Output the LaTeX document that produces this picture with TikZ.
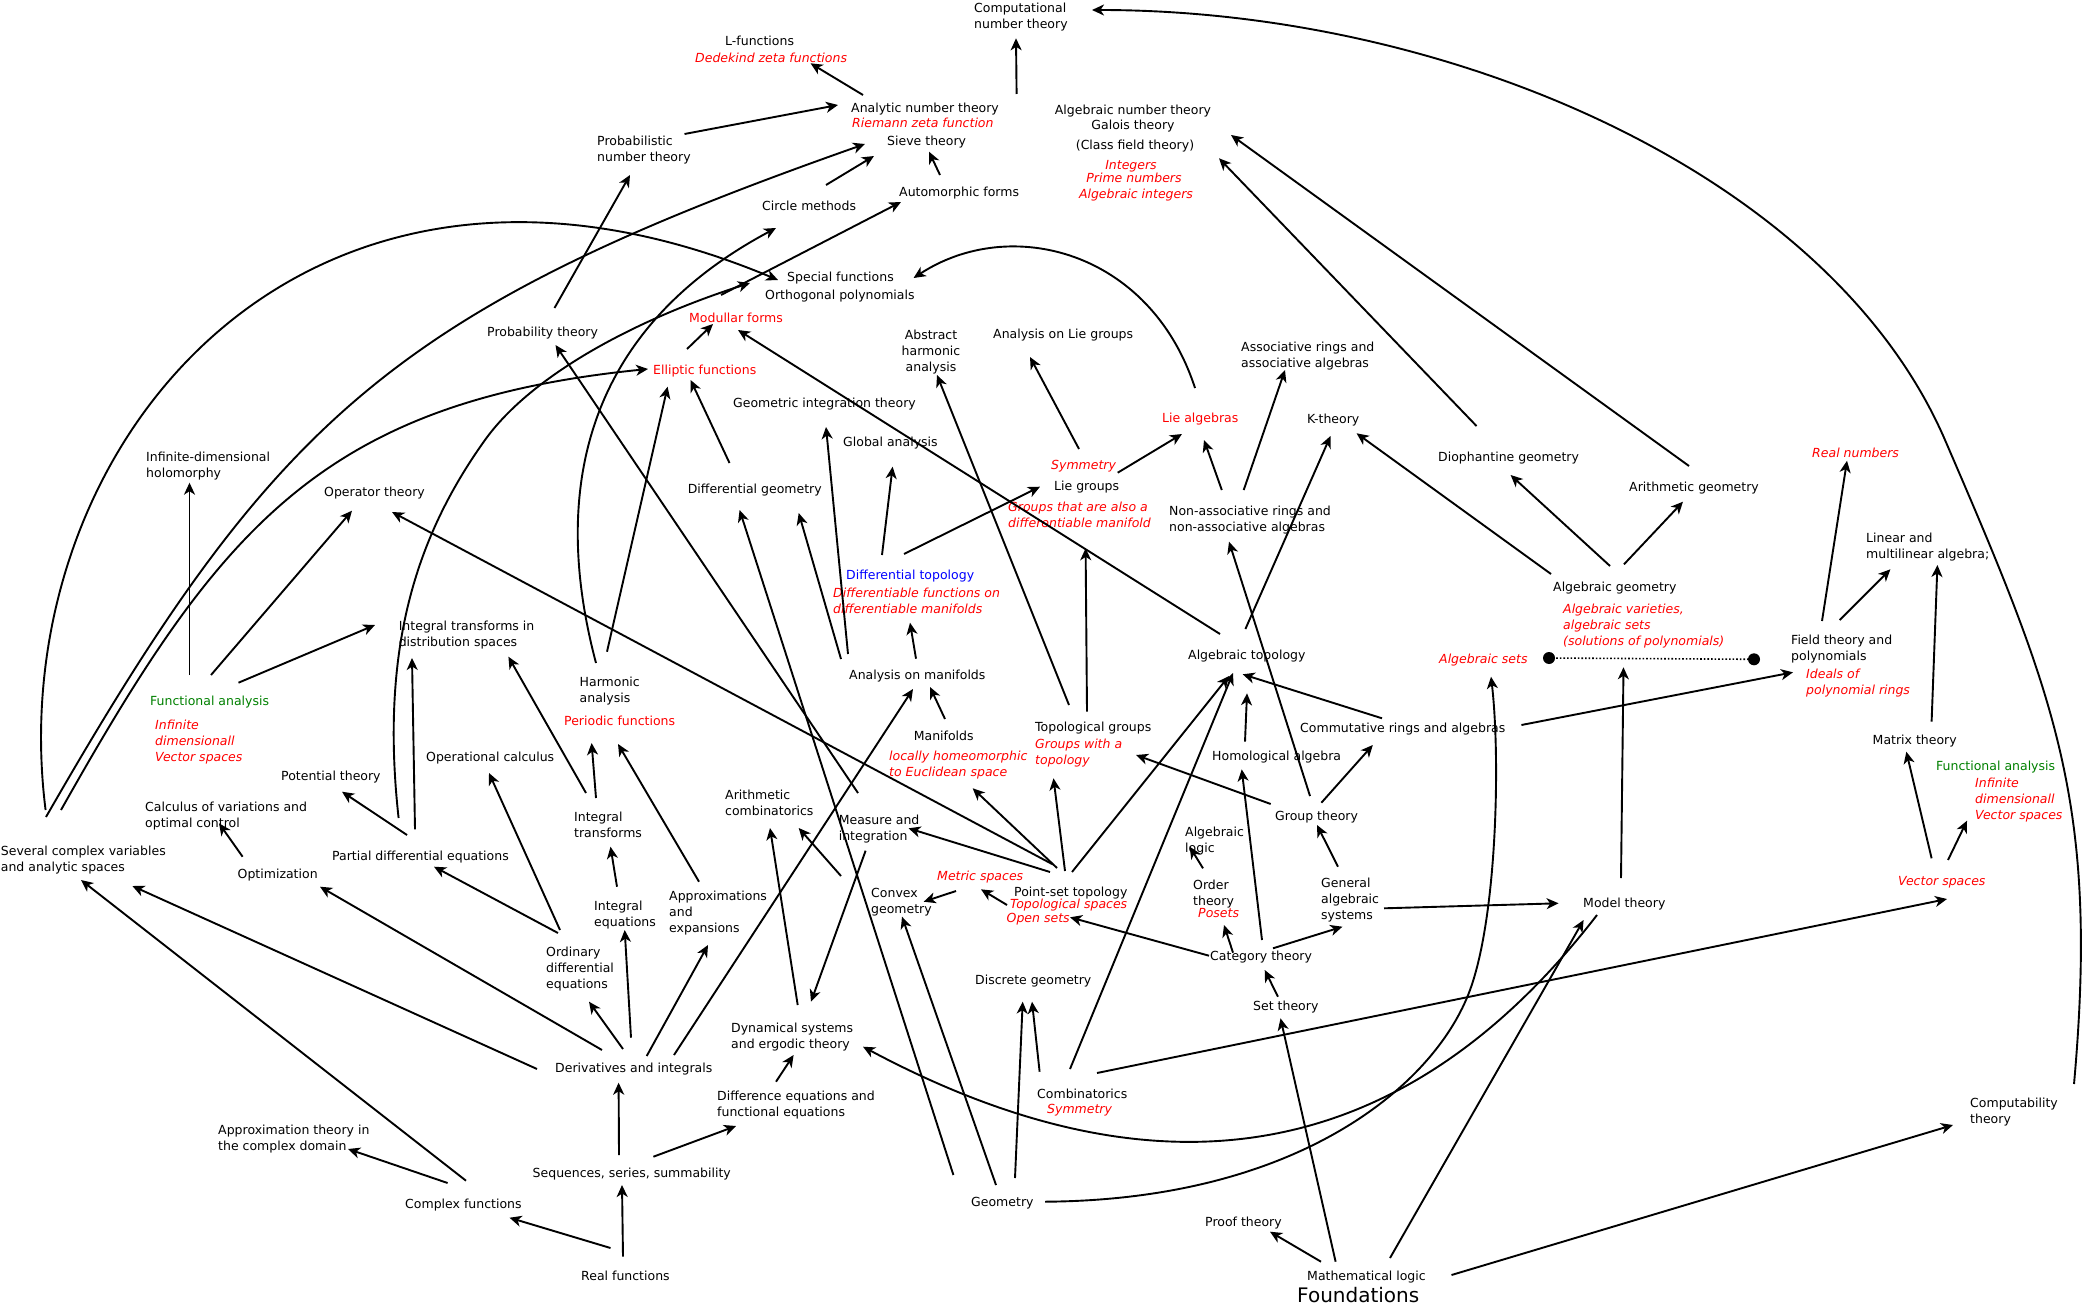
\documentclass[tikz,border=0pt]{standalone}
\usepackage{fontspec}
\setmainfont{DejaVu Sans}
\usetikzlibrary{arrows.meta}
\definecolor{tred}{RGB}{255,0,0}
\definecolor{tgreen}{RGB}{0,128,0}
\definecolor{tblue}{RGB}{0,0,255}
\newcommand\vl[1]{\vtop{\baselineskip=16pt\lineskiplimit=-20pt\halign{##\hfil\cr#1\cr}}}
\newcommand\vc[1]{\vtop{\baselineskip=16pt\lineskiplimit=-20pt\halign{\hfil##\hfil\cr#1\cr}}}
\begin{document}
\begin{tikzpicture}[x=1pt,y=-1pt,
  lbl/.style={anchor=base west,inner sep=0pt,font=\fontsize{12.5}{16}\selectfont,text=black},
  rl/.style={lbl,text=tred,font=\fontsize{12.5}{16}\selectfont\itshape},
  ru/.style={lbl,text=tred},
  gl/.style={lbl,text=tgreen},
  bl/.style={lbl,text=tblue},
  arr/.style={-{Stealth[length=12pt,width=11pt,inset=3.5pt]},line width=1.9pt}]
\useasboundingbox (0,0) rectangle (2090,1308);
% ---------------- labels ----------------
\node[lbl] (comp) at (974,12.3) {\vl{Computational\cr number theory}};
\node[lbl] (lfun) at (725,45.7) {L-functions};
\node[rl] (dedekind) at (695,62.3) {Dedekind zeta functions};
\node[lbl] (ant) at (851,112.7) {Analytic number theory};
\node[rl] (riemann) at (852,127.7) {Riemann zeta function};
\node[lbl] (sieve) at (887,145.7) {Sieve theory};
\node[lbl] (probnt) at (597,145.7) {\vl{Probabilistic\cr number theory}};
\node[lbl] (circle) at (762,210.7) {Circle methods};
\node[lbl] (autom) at (899,196.7) {Automorphic forms};
\node[lbl] (special) at (787,281.7) {Special functions};
\node[lbl] (ortho) at (765,299.7) {Orthogonal polynomials};
\node[ru] (modular) at (689,322.3) {Modullar forms};
\node[ru] (elliptic) at (653,374.3) {Elliptic functions};
\node[lbl,anchor=base] (absharm) at (931,339.3) {\vc{Abstract\cr harmonic\cr analysis}};
\node[lbl] (anlie) at (993,338.3) {Analysis on Lie groups};
\node[lbl] (geoint) at (733,407.7) {Geometric integration theory};
\node[lbl] (prob) at (487,336.7) {Probability theory};
\node[lbl,anchor=base] (algnt) at (1133,114.7) {Algebraic number theory};
\node[lbl,anchor=base] (galois) at (1133,129.7) {Galois theory};
\node[lbl,anchor=base] (classfield) at (1135,149.7) {(Class field theory)};
\node[rl,anchor=base] (integers) at (1131,169.7) {Integers};
\node[rl,anchor=base] (primes) at (1134,182.7) {Prime numbers};
\node[rl,anchor=base] (algint) at (1136,198.7) {Algebraic integers};
\node[lbl] (assoc) at (1241,351.7) {\vl{Associative rings and\cr associative algebras}};
\node[ru] (liealg) at (1162,422.7) {Lie algebras};
\node[lbl] (ktheory) at (1307,423.7) {K-theory};
\node[lbl] (dioph) at (1438,461.7) {Diophantine geometry};
\node[rl] (symm) at (1051,469.7) {Symmetry};
\node[lbl] (liegroups) at (1054,490) {Lie groups};
\node[rl] (groupsdiff) at (1008,511.7) {\vl{Groups that are also a\cr differentiable manifold}};
\node[lbl] (nonassoc) at (1169,515.7) {\vl{Non-associative rings and\cr non-associative algebras}};
\node[lbl] (algtop) at (1188,659) {Algebraic topology};
\node[rl] (algsets) at (1439,663) {Algebraic sets};
\node[lbl] (alggeom) at (1553,591.7) {Algebraic geometry};
\node[rl] (algvar) at (1563,613.7) {\vl{Algebraic varieties,\cr algebraic sets\cr (solutions of polynomials)}};
\node[lbl] (topgroups) at (1035,731.7) {Topological groups};
\node[rl] (groupstop) at (1035,748.7) {\vl{Groups with a\cr topology}};
\node[lbl] (commrings) at (1300,732.7) {Commutative rings and algebras};
\node[lbl] (homalg) at (1212,760.7) {Homological algebra};
\node[lbl] (grouptheory) at (1275,820.7) {Group theory};
\node[lbl] (alglogic) at (1185,836.7) {\vl{Algebraic\cr logic}};
\node[lbl] (arithgeom) at (1629,491.7) {Arithmetic geometry};
\node[rl] (realnum) at (1812,457.7) {Real numbers};
\node[lbl] (linear) at (1866,542.7) {\vl{Linear and\cr multilinear algebra;}};
\node[lbl] (field) at (1791,644.7) {\vl{Field theory and\cr polynomials}};
\node[rl] (ideals) at (1806,678.7) {\vl{Ideals of\cr polynomial rings}};
\node[lbl] (matrix) at (1872.5,744.7) {Matrix theory};
\node[gl] (fatwo) at (1936,770.7) {Functional analysis};
\node[rl] (infdimtwo) at (1975,787.3) {\vl{Infinite\cr dimensionall\cr Vector spaces}};
\node[rl] (vecspaces) at (1898,885.7) {Vector spaces};
\node[lbl] (model) at (1583,907.7) {Model theory};
\node[lbl] (computab) at (1970,1107.7) {\vl{Computability\cr theory}};
\node[lbl] (pointset) at (1014,896.7) {Point-set topology};
\node[rl] (topspaces) at (1010,908.3) {Topological spaces};
\node[rl] (opensets) at (1006.5,922.3) {Open sets};
\node[lbl] (order) at (1193,889.3) {\vl{Order\cr theory}};
\node[rl] (posets) at (1198,917.3) {Posets};
\node[lbl] (genalg) at (1321,887.7) {\vl{General\cr algebraic\cr systems}};
\node[lbl] (category) at (1210,960.7) {Category theory};
\node[lbl] (settheory) at (1253,1010.7) {Set theory};
\node[lbl] (discrete) at (975,984.3) {Discrete geometry};
\node[lbl] (combin) at (1037,1098.3) {Combinatorics};
\node[rl] (symmtwo) at (1047,1113.3) {Symmetry};
\node[lbl] (proof) at (1205,1226.7) {Proof theory};
\node[lbl] (mathlogic) at (1307,1280.7) {Mathematical logic};
\node[lbl,font=\fontsize{20}{24}\selectfont] (found) at (1297,1302) {Foundations};
\node[rl] (metric) at (937,880.7) {Metric spaces};
\node[lbl] (convex) at (871,897.7) {\vl{Convex\cr geometry}};
\node[lbl] (inteq) at (594,910.7) {\vl{Integral\cr equations}};
\node[lbl] (approx) at (669,900.3) {\vl{Approximations\cr and\cr expansions}};
\node[lbl] (ode) at (546,956.7) {\vl{Ordinary\cr differential\cr equations}};
\node[lbl] (dynam) at (731,1032.7) {\vl{Dynamical systems\cr and ergodic theory}};
\node[lbl] (deriv) at (555,1072.7) {Derivatives and integrals};
\node[lbl] (diffeq) at (717,1100.7) {\vl{Difference equations and\cr functional equations}};
\node[lbl] (seq) at (532.5,1177.7) {Sequences, series, summability};
\node[lbl] (realfun) at (581,1280.7) {Real functions};
\node[lbl] (geometry) at (971,1206.7) {Geometry};
\node[lbl] (several) at (0.7,855.7) {\vl{Several complex variables\cr and analytic spaces}};
\node[lbl] (optim) at (237.5,878.7) {Optimization};
\node[lbl] (approxc) at (218,1134.3) {\vl{Approximation theory in\cr the complex domain}};
\node[lbl] (complexfun) at (405,1208.3) {Complex functions};
\node[lbl] (infholo) at (146,461.7) {\vl{Infinite-dimensional\cr holomorphy}};
\node[lbl] (operator) at (324,496.7) {Operator theory};
\node[lbl] (itdist) at (398.6,630.7) {\vl{Integral transforms in\cr distribution spaces}};
\node[gl] (fa) at (150,705.7) {Functional analysis};
\node[rl] (infdim) at (155,729.3) {\vl{Infinite\cr dimensionall\cr Vector spaces}};
\node[lbl] (potential) at (281,780.7) {Potential theory};
\node[lbl] (calcvar) at (145,811.7) {\vl{Calculus of variations and\cr optimal control}};
\node[lbl] (opcalc) at (426,761.7) {Operational calculus};
\node[lbl] (pde) at (332,860) {Partial differential equations};
\node[lbl] (global) at (843,446.7) {Global analysis};
\node[lbl] (diffgeom) at (687.6,493.7) {Differential geometry};
\node[bl] (difftop) at (846,579.7) {Differential topology};
\node[rl] (difffun) at (833,597.7) {\vl{Differentiable functions on\cr differentiable manifolds}};
\node[lbl] (harmonic) at (579.5,686.7) {\vl{Harmonic\cr analysis}};
\node[ru] (periodic) at (564,725.7) {Periodic functions};
\node[lbl] (anman) at (849,679.7) {Analysis on manifolds};
\node[lbl] (manifolds) at (913.6,740.7) {Manifolds};
\node[rl] (locally) at (889,760.7) {\vl{locally homeomorphic\cr to Euclidean space}};
\node[lbl] (inttrans) at (574,821.7) {\vl{Integral\cr transforms}};
\node[lbl] (arithcomb) at (725,799.7) {\vl{Arithmetic\cr combinatorics}};
\node[lbl] (measure) at (838.6,824.7) {\vl{Measure and\cr integration}};
% ---------------- straight arrows ----------------
\draw[arr] (863,95) -- (810.5,63.3);
\draw[arr] (1016.6,94) -- (1016,38.3);
\draw[arr] (684.5,134) -- (838,105);
\draw[arr] (826,185) -- (874,156);
\draw[arr] (940,175) -- (929,151.7);
\draw[arr] (554.5,308) -- (630,175);
\draw[arr] (721,295) -- (901,202);
\draw[arr] (687,349) -- (713,324);
\draw[arr] (1220,634) -- (738,330);
\draw[arr] (607,651.7) -- (667.6,386.7);
\draw[arr] (729.5,463) -- (690.6,380);
\draw[arr] (1069,705) -- (937,375);
\draw[arr] (1079,449) -- (1030,357);
\draw[arr] (848,654) -- (826,427);
\draw[arr] (882,555) -- (892.6,466.7);
\draw[arr] (904,554) -- (1040,486.7);
\draw[arr] (841,659) -- (798.7,513);
\draw[arr] (916,658.7) -- (910,622.7);
\draw[arr] (945,719) -- (930,687);
\draw[arr] (674,1055) -- (913,689);
\draw[arr] (953.4,1175) -- (739.6,510);
\draw[arr] (858,793) -- (555.5,345);
\draw[arr] (1052,864) -- (392,512);
\draw[arr] (189.5,675) -- (189.5,482.7);
\draw[arr] (211,675) -- (352,510.7);
\draw[arr] (238.5,682.7) -- (375,625);
\draw[arr] (407,835) -- (342,791.7);
\draw[arr] (415,829.3) -- (412,658);
\draw[arr] (242.6,856.7) -- (219,823.3);
\draw[arr] (586,793) -- (508.4,656.7);
\draw[arr] (560,930) -- (489,773);
\draw[arr] (558,933) -- (434,866.7);
\draw[arr] (596,798) -- (591.6,743);
\draw[arr] (699,881.7) -- (618,744);
\draw[arr] (617,886.7) -- (610.5,846.7);
\draw[arr] (623,1049) -- (589,1001.7);
\draw[arr] (631,1037.7) -- (624.7,930);
\draw[arr] (646.7,1056) -- (708,945);
\draw[arr] (602,1050) -- (320,886.7);
\draw[arr] (537,1069) -- (132.4,886);
\draw[arr] (466,1180.7) -- (81,880);
\draw[arr] (447.6,1183) -- (348,1149);
\draw[arr] (610.5,1248) -- (509.5,1217.7);
\draw[arr] (623,1256.7) -- (622,1185);
\draw[arr] (619,1155) -- (618.6,1082.7);
\draw[arr] (653.4,1156.7) -- (736,1126);
\draw[arr] (776,1081.7) -- (793.6,1055);
\draw[arr] (797.7,1005) -- (770,828);
\draw[arr] (841,876) -- (798.7,828);
\draw[arr] (865.6,850.7) -- (811,1001.7);
\draw[arr] (996,1185) -- (902,916.7);
\draw[arr] (956,891) -- (923.7,901.7);
\draw[arr] (1007,905) -- (981,889.3);
\draw[arr] (1015,1178) -- (1022.7,1001.7);
\draw[arr] (1039.6,1071.7) -- (1032,1001.7);
\draw[arr] (1097,1073) -- (1947,899);
\draw[arr] (1070,1069) -- (1233,673);
\draw[arr] (1072,872) -- (1229,676);
\draw[arr] (1390,1258) -- (1583.6,920);
\draw[arr] (1451.5,1275) -- (1953,1125);
\draw[arr] (1321,1261.7) -- (1270,1231.7);
\draw[arr] (1335.6,1261.7) -- (1280.5,1018.3);
\draw[arr] (1278,996.7) -- (1264.7,970);
\draw[arr] (1233,952.7) -- (1224,925);
\draw[arr] (1273,948.3) -- (1342.4,926.7);
\draw[arr] (1209,955.7) -- (1070,917.3);
\draw[arr] (1262,940) -- (1241.7,769.3);
\draw[arr] (1203,868.3) -- (1189.7,846.7);
\draw[arr] (1338,866.7) -- (1317,825);
\draw[arr] (1384,908.3) -- (1558.6,903.3);
\draw[arr] (1050,872) -- (908.5,828.3);
\draw[arr] (1057,868) -- (972.7,788.3);
\draw[arr] (1065,871) -- (1053.5,778.3);
\draw[arr] (1087,711.7) -- (1085.6,548.3);
\draw[arr] (1117.7,472.7) -- (1182,434);
\draw[arr] (1221.8,490) -- (1204,440);
\draw[arr] (1243.7,490) -- (1285,370);
\draw[arr] (1245.4,629) -- (1330.5,436);
\draw[arr] (1310,796) -- (1229,541.7);
\draw[arr] (1551,574) -- (1356.6,433.3);
\draw[arr] (1382,718.3) -- (1242.7,674.3);
\draw[arr] (1245,741.7) -- (1247,693.3);
\draw[arr] (1270.7,804) -- (1136,755);
\draw[arr] (1321.4,802.7) -- (1372.8,745);
\draw[arr] (1521.4,725) -- (1793,672.3);
\draw[arr] (1621,878) -- (1623.5,667.3);
\draw[arr] (1610,566) -- (1510.6,475);
\draw[arr] (1624,564.3) -- (1683,501.7);
\draw[arr] (1476.5,426) -- (1219,158.3);
\draw[arr] (1689,466) -- (1231,135);
\draw[arr] (1822,621) -- (1847,460.7);
\draw[arr] (1839.7,620) -- (1890.4,569.3);
\draw[arr] (1931.6,721.7) -- (1937.4,565);
\draw[arr] (1931.6,858.3) -- (1906.3,751.7);
\draw[arr] (1948,860) -- (1967,820.7);
% ---------------- curved arrows ----------------
\draw[arr] (45.6,810) .. controls (0,450) and (300,80) .. (778,280);
\draw[arr] (46,817) .. controls (275,418) and (393.5,310) .. (865,144);
\draw[arr] (61,810) .. controls (217.8,531.6) and (319.6,402) .. (648,369);
\draw[arr] (398.6,818) .. controls (380,650) and (415.4,537.2) .. (485,440) .. controls (531.4,375.2) and (635.6,319.4) .. (750,283);
\draw[arr] (596,663) .. controls (550,490) and (585,330) .. (776,228);
\draw[arr] (1195,388) .. controls (1150,250) and (1010,215) .. (913.6,278);
\draw[arr] (2074,1084) .. controls (2099,804) and (2056,697) .. (1945,440) .. controls (1830,174) and (1450,10) .. (1092,10);
\draw[arr] (1045,1201.7) .. controls (1300,1200) and (1435.7,1083.9) .. (1470,990) .. controls (1497.4,914.9) and (1500.3,756) .. (1491,676.7);
\draw[arr] (1597,915) .. controls (1383.5,1191.5) and (1127,1187.7) .. (863,1046.7);
% ---------------- dotted link ----------------
\coordinate (dl) at (1549,658);
\coordinate (dr) at (1754,659.3);
\draw[line width=1.6pt,dotted] (dl) -- (dr);
\fill (dl) circle (6);
\fill (dr) circle (6);
\end{tikzpicture}
\end{document}
